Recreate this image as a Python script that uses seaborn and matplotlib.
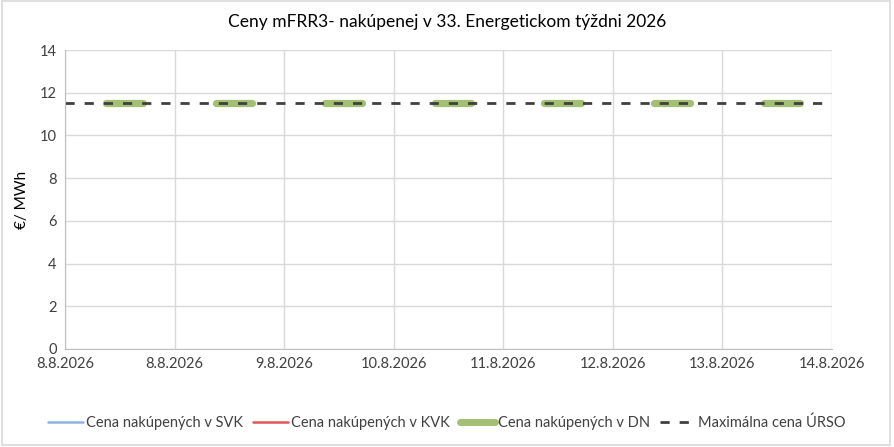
import matplotlib
matplotlib.use("Agg")
import matplotlib.pyplot as plt
import seaborn as sns
import numpy as np
import pandas as pd
from matplotlib.lines import Line2D
from matplotlib.patches import Rectangle

# ---- data ----
days = ["8.8.2026", "9.8.2026", "10.8.2026", "11.8.2026", "12.8.2026", "13.8.2026", "14.8.2026"]
tick_labels = ["8.8.2026", "8.8.2026", "9.8.2026", "10.8.2026", "11.8.2026", "12.8.2026", "13.8.2026", "14.8.2026"]
hours = list(range(24))
dn_price = [11.5, 11.5, 11.5, 11.5, 11.5, 11.5, 11.5]   # €/MWh per day in DN window
dn_from_hour = [9, 9, 9, 9, 9, 9, 9]
dn_to_hour = [17, 17, 17, 17, 17, 17, 17]
urso_max_price = [11.5, 11.5, 11.5, 11.5, 11.5, 11.5, 11.5]
svk_price = []  # no purchases
kvk_price = []  # no purchases

series_names = ["Cena nakúpených v SVK", "Cena nakúpených v KVK",
                "Cena nakúpených v DN", "Maximálna cena ÚRSO"]

# ---- hourly table ----
rows = []
for d, day in enumerate(days):
    for h in hours:
        t = d + h / 24.0
        dn = dn_price[d] if dn_from_hour[d] <= h <= dn_to_hour[d] else np.nan
        rows.append({"t": t, "day": d, "DN": dn, "URSO": urso_max_price[d]})
df = pd.DataFrame(rows)

sns.set_style("white")
plt.rcParams["font.family"] = ["Lato", "DejaVu Sans"]

fig = plt.figure(figsize=(8.94, 4.47), dpi=100)
ax = fig.add_axes([65 / 894, 1 - 349 / 447, (832 - 65) / 894, (349 - 50) / 447])

green = "#a3bf72"
# DN segments (one per day)
for d in range(len(days)):
    sub = df[(df["day"] == d) & df["DN"].notna()]
    sns.lineplot(data=sub, x="t", y="DN", ax=ax, color=green, linewidth=5.2,
                 solid_capstyle="round", legend=False, estimator=None)
# Max URSO dashed
sns.lineplot(data=df, x="t", y="URSO", ax=ax, color="#404040", linewidth=2.0,
             dashes=False, legend=False, estimator=None)
ax.lines[-1].set_dashes((3.3, 3.6))

ax.set_xlim(0, 7)
ax.set_ylim(0, 14)
ax.set_xticks(range(8))
ax.set_xticklabels(tick_labels, fontsize=10.5, color="#404040")
ax.set_yticks(range(0, 15, 2))
ax.set_yticklabels([str(v) for v in range(0, 15, 2)], fontsize=10.5, color="#404040")
ax.tick_params(axis="both", length=0, pad=6)
ax.grid(True, color="#d9d9d9", linewidth=1.0)
ax.set_axisbelow(True)
for s in ["top", "right"]:
    ax.spines[s].set_visible(False)
ax.spines["left"].set_color("#bfbfbf")
ax.spines["bottom"].set_color("#bfbfbf")
ax.set_xlabel("")
ax.set_ylabel("€/ MWh", fontsize=11, color="#000000", labelpad=8)

fig.text(0.5, 1 - 22 / 447, "Ceny mFRR3- nakúpenej v 33. Energetickom týždni 2026",
         ha="center", va="center", fontsize=12.5, color="#000000")

handles = [
    Line2D([], [], color="#8db3e2", linewidth=1.8),
    Line2D([], [], color="#e05555", linewidth=1.8),
    Line2D([], [], color=green, linewidth=5, solid_capstyle="round"),
    Line2D([], [], color="#404040", linewidth=2, dashes=(3.3, 3.6)),
]
leg = fig.legend(handles, series_names, loc="center", bbox_to_anchor=(0.5, 1 - 423 / 447),
                 ncol=4, frameon=False, fontsize=10.5, handlelength=2.4,
                 handletextpad=0.2, columnspacing=0.7)
for t in leg.get_texts():
    t.set_color("#404040")

fig.patches.append(Rectangle((0.002, 0.004), 0.994, 0.993, transform=fig.transFigure,
                             fill=False, edgecolor="#d9d9d9", linewidth=1.2))

fig.savefig("out.png", dpi=100)
